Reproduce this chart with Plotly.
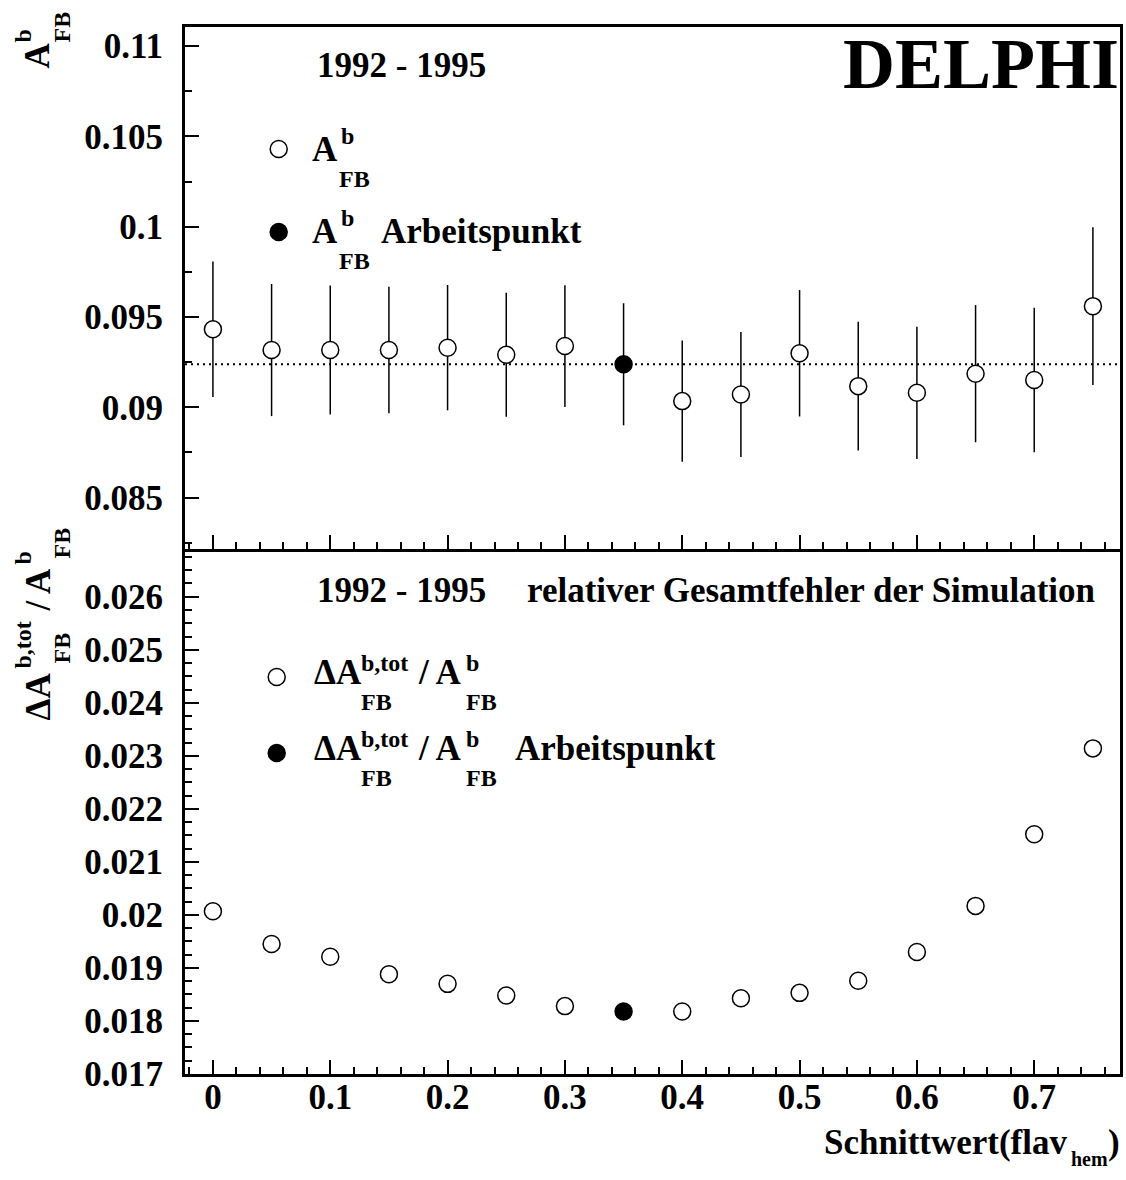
import plotly.graph_objects as go

# Cut values on the hemisphere flavour tag
cut_values = [0.0, 0.05, 0.10, 0.15, 0.20, 0.25, 0.30, 0.35,
              0.40, 0.45, 0.50, 0.55, 0.60, 0.65, 0.70, 0.75]

# Forward-backward asymmetry A_FB^b and its statistical error per cut
afb = [0.09432, 0.09317, 0.09317, 0.09317, 0.09330, 0.09291, 0.09339, 0.09238,
       0.09034, 0.09071, 0.09299, 0.09117, 0.09080, 0.09186, 0.09151, 0.09560]
afb_err = [0.00375, 0.00366, 0.00357, 0.00350, 0.00347, 0.00343, 0.00337, 0.00338,
           0.00336, 0.00346, 0.00350, 0.00357, 0.00366, 0.00380, 0.00400, 0.00437]

# Relative total simulation error  dA_FB^{b,tot} / A_FB^b
rel_err = [0.02007, 0.01945, 0.01921, 0.01888, 0.01870, 0.01848, 0.01828, 0.01818,
           0.01818, 0.01843, 0.01853, 0.01876, 0.01930, 0.02017, 0.02152, 0.02314]

# Index of the chosen working point (Arbeitspunkt)
work_idx = 7

x_tickvals = [0.0, 0.1, 0.2, 0.3, 0.4, 0.5, 0.6, 0.7]
x_ticktext = ["0", "0.1", "0.2", "0.3", "0.4", "0.5", "0.6", "0.7"]
top_tickvals = [0.085, 0.09, 0.095, 0.1, 0.105, 0.11]
top_ticktext = ["0.085", "0.09", "0.095", "0.1", "0.105", "0.11"]
bot_tickvals = [0.017, 0.018, 0.019, 0.020, 0.021, 0.022, 0.023, 0.024, 0.025, 0.026]
bot_ticktext = ["0.017", "0.018", "0.019", "0.02", "0.021", "0.022",
                "0.023", "0.024", "0.025", "0.026"]

W, H = 1126, 1180
PL, PR, PT, PB = 185, 1123, 27, 1074   # plot area in pixels
DIV = 549                               # pixel row of the panel divider
FONT = "Liberation Serif"


def px(x):
    return (x - PL) / (PR - PL)


def py(y):
    return (PB - y) / (PB - PT)


split = py(DIV)

others = [i for i in range(len(cut_values)) if i != work_idx]

fig = go.Figure()

# --- upper panel: A_FB^b with error bars ---
fig.add_trace(go.Scatter(
    x=[cut_values[i] for i in others], y=[afb[i] for i in others],
    error_y=dict(type="data", array=[afb_err[i] for i in others],
                 thickness=1.5, width=0, color="black"),
    mode="markers",
    marker=dict(symbol="circle", size=17, color="white",
                line=dict(color="black", width=1.5)),
    xaxis="x2", yaxis="y2", showlegend=False))
fig.add_trace(go.Scatter(
    x=[cut_values[work_idx]], y=[afb[work_idx]],
    error_y=dict(type="data", array=[afb_err[work_idx]],
                 thickness=1.5, width=0, color="black"),
    mode="markers",
    marker=dict(symbol="circle", size=17, color="black",
                line=dict(color="black", width=1.5)),
    xaxis="x2", yaxis="y2", showlegend=False))

# --- lower panel: relative total error ---
fig.add_trace(go.Scatter(
    x=[cut_values[i] for i in others], y=[rel_err[i] for i in others],
    mode="markers",
    marker=dict(symbol="circle", size=17, color="white",
                line=dict(color="black", width=1.5)),
    xaxis="x", yaxis="y", showlegend=False))
fig.add_trace(go.Scatter(
    x=[cut_values[work_idx]], y=[rel_err[work_idx]],
    mode="markers",
    marker=dict(symbol="circle", size=17, color="black",
                line=dict(color="black", width=1.5)),
    xaxis="x", yaxis="y", showlegend=False))

# dotted reference line at the working-point asymmetry
shapes = [dict(type="line", xref="x2 domain", yref="y2", x0=0, x1=1,
               y0=afb[work_idx], y1=afb[work_idx], layer="below",
               line=dict(color="black", width=2, dash="2px,4px"))]


# legend symbols
def legend_marker(cx, cy, filled):
    return dict(type="circle", xref="paper", yref="paper",
                xsizemode="pixel", ysizemode="pixel",
                xanchor=px(cx), yanchor=py(cy),
                x0=-8.5, x1=8.5, y0=-8.5, y1=8.5,
                fillcolor="black" if filled else "white",
                line=dict(color="black", width=1.5))


shapes += [legend_marker(279, 149, False), legend_marker(279, 232, True),
           legend_marker(277, 677, False), legend_marker(277, 753, True)]

annotations = []


def text(s, left, baseline, size=35, anchor="left"):
    annotations.append(dict(
        text=s, xref="paper", yref="paper",
        x=px(left), y=py(baseline - 0.3375 * size),
        xanchor=anchor, yanchor="middle", showarrow=False, borderpad=0,
        font=dict(family=FONT, size=size, color="black", weight="bold")))


def vtext(s, cx, cy, size=35):
    annotations.append(dict(
        text=s, xref="paper", yref="paper", x=px(cx), y=py(cy),
        xanchor="center", yanchor="middle", textangle=-90, showarrow=False,
        borderpad=0,
        font=dict(family=FONT, size=size, color="black", weight="bold")))


SUB = 24

# upper panel texts
text("1992 - 1995", 316, 77)
text("DELPHI", 1123, 88, size=72, anchor="right")
text("A", 311, 161)
text("b", 340, 144, SUB)
text("FB", 338, 187, SUB)
text("A", 311, 243)
text("b", 340, 226, SUB)
text("FB", 338, 269, SUB)
text("Arbeitspunkt", 381, 243)

# lower panel texts
text("1992 - 1995", 316, 602)
text("relativer Gesamtfehler der Simulation", 527, 602)
for base in (684, 760):
    text("ΔA", 313, base)
    text("b,tot", 361, base - 13, SUB)
    text("FB", 361, base + 26, SUB)
    text("/ A", 418, base)
    text("b", 466, base - 13, SUB)
    text("FB", 466, base + 26, SUB)
text("Arbeitspunkt", 515, 760)

# x axis title
text("Schnittwert(flav", 1072, 1154, anchor="right")
text("hem", 1073, 1166, 20)
text(")", 1110, 1154)

# rotated y axis titles
vtext("A", 38, 55)
vtext("b", 22, 36, SUB)
vtext("FB", 62, 27, SUB)

vtext("ΔA", 38, 696)
vtext("b,tot", 22, 645, SUB)
vtext("FB", 62, 648, SUB)
vtext("/ A", 38, 589)
vtext("b", 22, 558, SUB)
vtext("FB", 62, 543, SUB)

tickfont = dict(family=FONT, size=35, color="black", weight="bold")
common_axis = dict(showline=True, linecolor="black", linewidth=3,
                   showgrid=False, zeroline=False, ticks="inside", ticklen=14,
                   tickwidth=1.5, tickcolor="black")
x_range = [-0.0238, 0.7731]

fig.update_layout(
    width=W, height=H,
    margin=dict(l=PL, r=W - PR, t=PT, b=H - PB),
    paper_bgcolor="white", plot_bgcolor="white",
    showlegend=False,
    xaxis=dict(**common_axis, mirror=False, range=x_range, anchor="y",
               domain=[0, 1], tickmode="array", tickvals=x_tickvals,
               ticktext=x_ticktext, tickfont=tickfont, ticklabelstandoff=-10,
               minor=dict(ticks="inside", ticklen=7, tickwidth=1.5,
                          tickcolor="black", dtick=0.02, tick0=0)),
    xaxis2=dict(**common_axis, mirror=True, range=x_range, anchor="y2",
                domain=[0, 1], matches="x", showticklabels=False,
                tickmode="array", tickvals=x_tickvals,
                minor=dict(ticks="inside", ticklen=7, tickwidth=1.5,
                           tickcolor="black", dtick=0.02, tick0=0)),
    yaxis=dict(**common_axis, mirror=True, range=[0.0170, 0.02690],
               domain=[0, split], anchor="x", tickmode="array",
               tickvals=bot_tickvals, ticktext=bot_ticktext,
               tickfont=tickfont, ticklabelstandoff=12,
               minor=dict(ticks="inside", ticklen=7, tickwidth=1.5,
                          tickcolor="black", dtick=0.00025, tick0=0.017)),
    yaxis2=dict(**common_axis, mirror=True, range=[0.08215, 0.11106],
                domain=[split, 1], anchor="x2", tickmode="array",
                tickvals=top_tickvals, ticktext=top_ticktext,
                tickfont=tickfont, ticklabelstandoff=12,
                minor=dict(ticks="inside", ticklen=7, tickwidth=1.5,
                           tickcolor="black", dtick=0.0025, tick0=0.08)),
    shapes=shapes,
    annotations=annotations,
)

fig.write_html("out.html")
